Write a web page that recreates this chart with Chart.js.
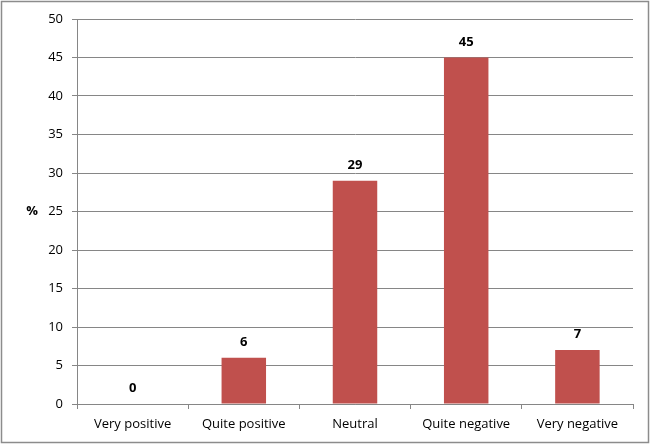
<!DOCTYPE html>
<html>
<head>
<meta charset="utf-8">
<script src="https://cdn.jsdelivr.net/npm/chart.js@4"></script>
<style>
  html, body { margin: 0; padding: 0; background: #fff; }
  #wrap { width: 651px; height: 445px; position: relative; }
</style>
</head>
<body>
<div id="wrap"><canvas id="chart"></canvas></div>
<script>
const categories = ['Very positive', 'Quite positive', 'Neutral', 'Quite negative', 'Very negative'];
const percents = [0, 6, 29, 45, 7];
const yTicks = [0, 5, 10, 15, 20, 25, 30, 35, 40, 45, 50];

const FONT = "'Open Sans', 'Liberation Sans', sans-serif";
const GRID = '#868686';

// value labels above bars, the "%" label and the outer frame
const extras = {
    id: 'extras',
    afterDatasetsDraw(chart) {
        const ctx = chart.ctx;
        const meta = chart.getDatasetMeta(0);
        ctx.save();
        ctx.fillStyle = '#000';
        ctx.font = 'bold 13px ' + FONT;
        ctx.textAlign = 'center';
        ctx.textBaseline = 'bottom';
        meta.data.forEach((bar, i) => {
            ctx.fillText(String(percents[i]), bar.x, bar.y - 9);
        });
        ctx.textBaseline = 'middle';
        ctx.fillText('%', 32, (chart.chartArea.top + chart.chartArea.bottom) / 2);
        ctx.strokeStyle = '#8c8c8c';
        ctx.lineWidth = 1.5;
        ctx.strokeRect(1.5, 1.5, chart.width - 4, chart.height - 4);
        ctx.restore();
    }
};

new Chart(document.getElementById('chart'), {
    type: 'bar',
    data: {
        labels: categories,
        datasets: [{
            data: percents,
            backgroundColor: '#C0504D',
            borderWidth: 0,
            barPercentage: 0.4,
            categoryPercentage: 1.0,
        }]
    },
    options: {
        responsive: true,
        maintainAspectRatio: false,
        animation: false,
        devicePixelRatio: 1,
        layout: { padding: { left: 0, right: 18, top: 19, bottom: 0 } },
        plugins: {
            legend: { display: false },
            tooltip: { enabled: false },
        },
        scales: {
            x: {
                grid: {
                    offset: true,
                    drawOnChartArea: false,
                    drawTicks: true,
                    tickLength: 5,
                    color: GRID,
                },
                border: { color: GRID, width: 1 },
                ticks: {
                    color: '#000',
                    font: { family: FONT, size: 13 },
                    padding: 7,
                    maxRotation: 0,
                },
                afterFit(scale) { scale.height = 41; },
            },
            y: {
                min: 0,
                max: 50,
                afterBuildTicks(scale) {
                    scale.ticks = yTicks.map(v => ({ value: v }));
                },
                grid: {
                    color: GRID,
                    drawTicks: true,
                    tickLength: 5,
                },
                border: { color: GRID, width: 1 },
                ticks: {
                    color: '#000',
                    font: { family: FONT, size: 13 },
                    padding: 9,
                },
                afterFit(scale) { scale.width = 77; },
            }
        }
    },
    plugins: [extras]
});
</script>
</body>
</html>
